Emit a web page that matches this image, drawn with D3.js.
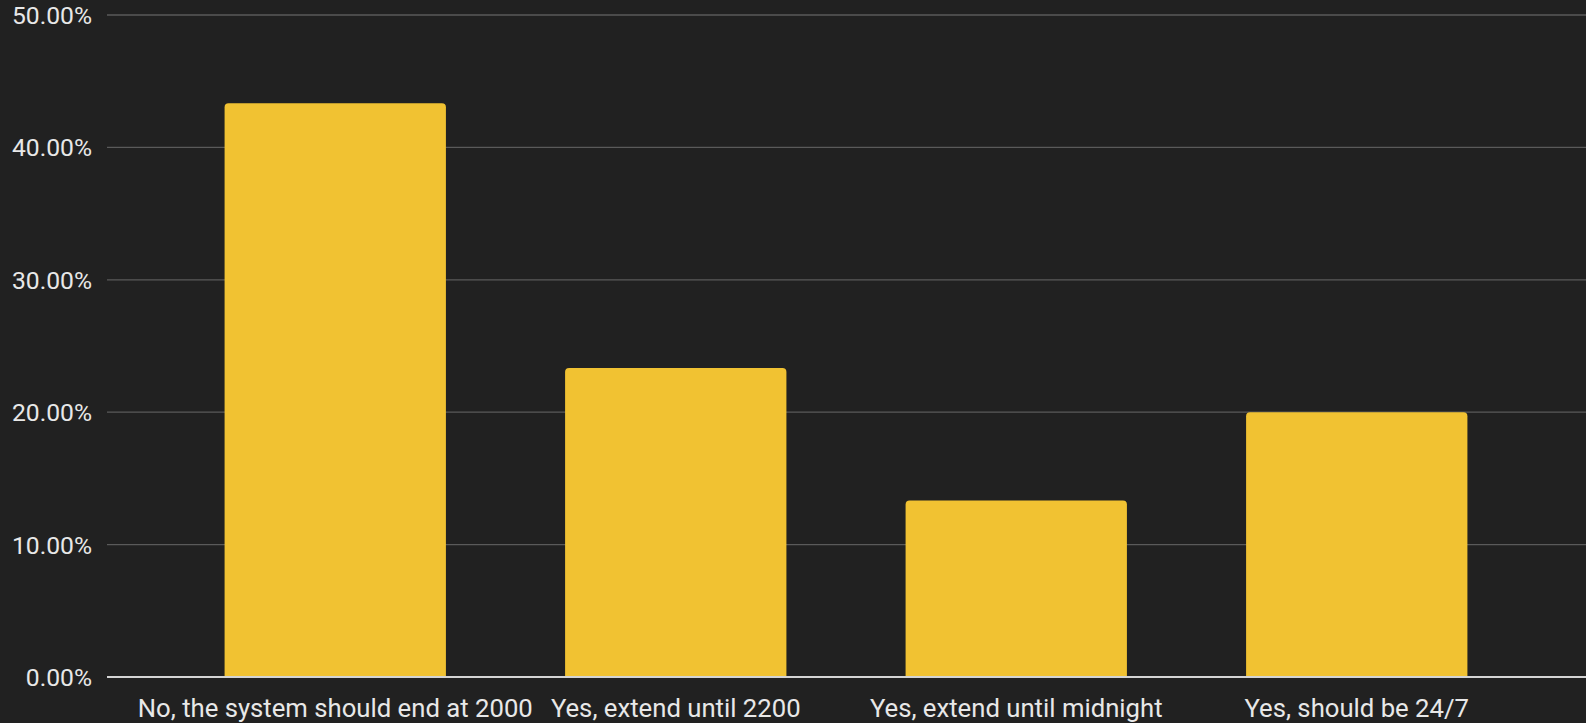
<!DOCTYPE html>
<html>
<head>
<style>
  body { margin: 0; background-color: #212121; }
  svg { display: block; }
</style>
</head>
<body>
<div class="container"></div>
<script src="https://d3js.org/d3.v7.min.js"></script>
<script>
var wd = 1586
var ht = 723

var categories = ["No, the system should end at 2000", "Yes, extend until 2200", "Yes, extend until midnight", "Yes, should be 24/7"]
var values = [43.33, 23.33, 13.33, 20.00]
var yTicks = [0, 10, 20, 30, 40, 50]

var svgCont = d3.select(".container").append("svg")
  .attr("width", wd)
  .attr("height", ht)

var x = d3.scaleBand()
  .domain(categories)
  .range([165, 1527])
  .paddingInner(0.35)
  .paddingOuter(0.175)

var y = d3.scaleLinear()
  .domain([0, 50])
  .range([677, 15])

// gridlines
svgCont.append("g").selectAll("line")
  .data(yTicks.filter(function(d) { return d > 0 }))
  .join("line")
  .attr("x1", 107)
  .attr("x2", wd)
  .attr("y1", function(d) { return y(d) })
  .attr("y2", function(d) { return y(d) })
  .attr("stroke", "#5a5a5a")
  .attr("stroke-width", 1.3)

// y labels
svgCont.append("g").selectAll("text")
  .data(yTicks)
  .join("text")
  .attr("x", 92)
  .attr("y", function(d) { return y(d) + 9 })
  .attr("text-anchor", "end")
  .attr("fill", "#e8e8e8")
  .style("font-family", "Roboto")
  .style("font-size", "24.7px")
  .text(function(d) { return d.toFixed(2) + "%" })

// bars, rounded top corners only
var r = 4
svgCont.append("g").selectAll("path")
  .data(values)
  .join("path")
  .attr("fill", "#f1c232")
  .attr("d", function(d, i) {
    var x0 = x(categories[i]), x1 = x0 + x.bandwidth()
    var y0 = y(d), yb = y(0)
    return "M" + x0 + "," + yb +
      "V" + (y0 + r) +
      "Q" + x0 + "," + y0 + " " + (x0 + r) + "," + y0 +
      "H" + (x1 - r) +
      "Q" + x1 + "," + y0 + " " + x1 + "," + (y0 + r) +
      "V" + yb + "Z"
  })

// baseline
svgCont.append("line")
  .attr("x1", 107)
  .attr("x2", wd)
  .attr("y1", y(0))
  .attr("y2", y(0))
  .attr("stroke", "#d4d4d4")
  .attr("stroke-width", 2)

// x labels
svgCont.append("g").selectAll("text")
  .data(categories)
  .join("text")
  .attr("x", function(d) { return x(d) + x.bandwidth() / 2 })
  .attr("y", 717)
  .attr("text-anchor", "middle")
  .attr("fill", "#e8e8e8")
  .style("font-family", "Roboto")
  .style("font-size", "25.7px")
  .text(function(d) { return d })
</script>
</body>
</html>
